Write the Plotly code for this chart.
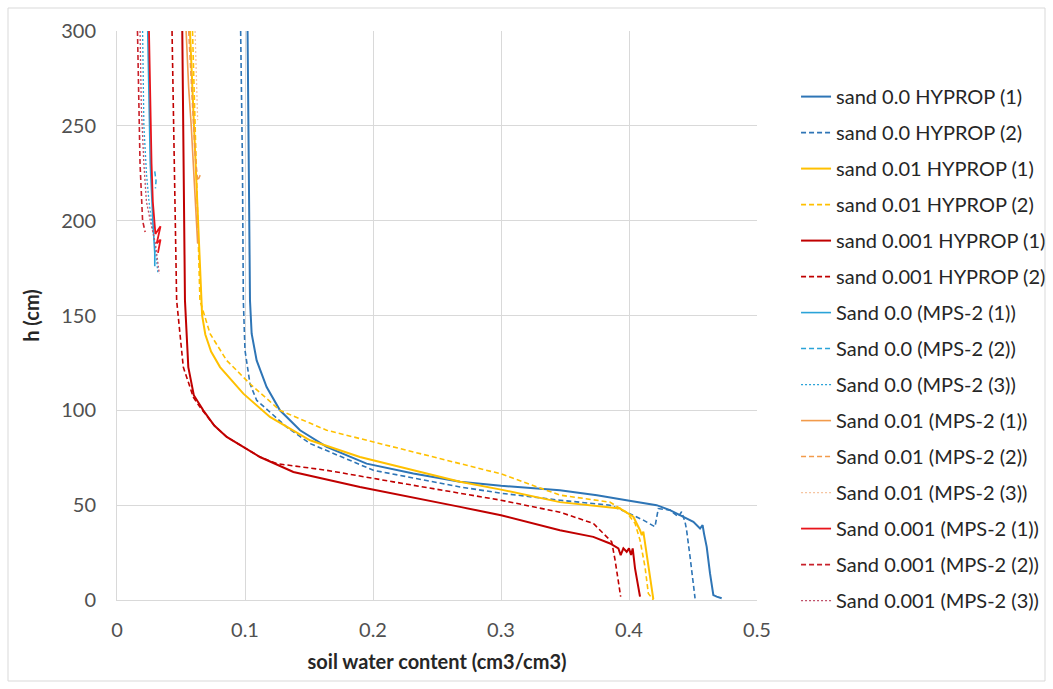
import plotly.graph_objects as go

# ---------------- data (soil water content, h in cm) ----------------
# HYPROP measurements
hyp00_1_x = [0.102, 0.103, 0.1039, 0.1052, 0.1091, 0.1169, 0.1273, 0.143, 0.1638, 0.195, 0.2315, 0.268, 0.30, 0.346,
             0.375, 0.398, 0.4216, 0.432, 0.4398, 0.4503, 0.4555, 0.4575, 0.4586, 0.4607, 0.4633, 0.4659, 0.4685, 0.4724]
hyp00_1_h = [300, 230, 157.9, 140.4, 126.3, 112.3, 100, 89.5, 80.7, 71.9, 66.7, 62.3, 60.2, 57.9,
             55.2, 52.6, 50, 47.4, 44.7, 41.2, 37.7, 39.5, 35, 28, 14, 2.6, 1.8, 0.9]

hyp00_2_x = [0.0966, 0.098, 0.0987, 0.1, 0.1039, 0.1091, 0.1326, 0.1508, 0.2003, 0.268, 0.30, 0.346, 0.385, 0.398,
             0.4112, 0.4203, 0.4229, 0.432, 0.4385, 0.4411, 0.4438, 0.445, 0.4477, 0.4516]
hyp00_2_h = [300, 230, 157.9, 131.6, 114, 105.3, 91.2, 82.5, 68.4, 59.6, 56.3, 52.6, 50, 46.3,
             42.1, 38.6, 48.2, 47.4, 43.9, 46.5, 41.2, 36.8, 22.8, 0.9]

hyp01_1_x = [0.057, 0.060, 0.063, 0.0655, 0.0665, 0.0690, 0.0735, 0.0805, 0.0987, 0.1195, 0.1508, 0.1898, 0.268, 0.30,
             0.346, 0.393, 0.4034, 0.4086, 0.41, 0.4112, 0.415, 0.4177, 0.419]
hyp01_1_h = [300, 250, 200, 165, 150, 140, 131, 122.8, 108.8, 96.5, 84.2, 75.4, 62.3, 58.2,
             51.6, 48.2, 43.9, 36.8, 34.2, 36.0, 19.3, 6.1, 0.5]

hyp01_2_x = [0.059, 0.061, 0.063, 0.0648, 0.0727, 0.0857, 0.1039, 0.1273, 0.1638, 0.2159, 0.268, 0.30, 0.346, 0.385,
             0.398, 0.4047, 0.4086, 0.4125, 0.4151, 0.419]
hyp01_2_h = [300, 250, 200, 157.9, 140.4, 126.3, 114, 100, 89.5, 80.7, 71.9, 66.5, 55.3, 51.6,
             46.3, 40.4, 31.6, 17.5, 3.5, 0]

hyp001_1_x = [0.051, 0.052, 0.0531, 0.0557, 0.0600, 0.0674, 0.0760, 0.0857, 0.1117, 0.1378, 0.1898, 0.268, 0.30, 0.346,
              0.3721, 0.3852, 0.3917, 0.3935, 0.3956, 0.3982, 0.40, 0.4016, 0.4029, 0.4047, 0.4068, 0.4086]
hyp001_1_h = [300, 230, 157.9, 122.8, 108, 100, 92, 86, 75.4, 67.5, 59.6, 49.1, 44.7, 36.8,
              33.3, 29.8, 27.2, 23.7, 27.2, 25.4, 27.2, 23.7, 27.2, 16.7, 8.8, 1.8]

hyp001_2_x = [0.043, 0.045, 0.0466, 0.0518, 0.0596, 0.0648, 0.0760, 0.0857, 0.1117, 0.1247, 0.1638, 0.2159, 0.268, 0.30,
              0.346, 0.3721, 0.3826, 0.3865, 0.3891, 0.3917, 0.3935]
hyp001_2_h = [300, 230, 157.9, 122.8, 107, 101.7, 92, 86, 75.4, 71.9, 68.4, 62.3, 56.1, 52.6,
              46.3, 40.4, 33.3, 30.7, 21.1, 10.5, 1.8]

# MPS-2 measurements
mps00_1_x = [0.024, 0.025, 0.026, 0.028, 0.0295, 0.0295]
mps00_1_h = [300, 260, 230, 200, 183, 176]
mps00_2_x = [0.0295, 0.0305, 0.030]
mps00_2_h = [226, 221, 217]
mps00_3_x = [0.020, 0.021, 0.023, 0.025, 0.027, 0.030, 0.032]
mps00_3_h = [300, 250, 225, 210, 200, 185, 172]

mps01_1_x = [0.054, 0.056, 0.058, 0.060, 0.062, 0.063]
mps01_1_h = [300, 270, 250, 225, 200, 188]
mps01_2_x = [0.056, 0.059, 0.061, 0.063, 0.065]
mps01_2_h = [300, 260, 235, 221, 224]
mps01_3_x = [0.061, 0.062, 0.063]
mps01_3_h = [300, 275, 253]

mps001_1_x = [0.025, 0.026, 0.027, 0.028, 0.029, 0.030, 0.034, 0.031, 0.034, 0.032]
mps001_1_h = [300, 260, 230, 210, 200, 193, 197, 188, 190, 183]
mps001_2_x = [0.016, 0.017, 0.018, 0.019, 0.020, 0.022]
mps001_2_h = [300, 260, 230, 215, 200, 194]
mps001_3_x = [0.018, 0.019, 0.021, 0.023, 0.026, 0.030, 0.033]
mps001_3_h = [300, 260, 230, 210, 200, 188, 172]

series_names = [
    "sand 0.0 HYPROP (1)", "sand 0.0 HYPROP (2)",
    "sand 0.01 HYPROP (1)", "sand 0.01 HYPROP (2)",
    "sand 0.001 HYPROP (1)", "sand 0.001 HYPROP (2)",
    "Sand 0.0 (MPS-2 (1))", "Sand 0.0 (MPS-2 (2))", "Sand 0.0 (MPS-2 (3))",
    "Sand 0.01 (MPS-2 (1))", "Sand 0.01 (MPS-2 (2))", "Sand 0.01 (MPS-2 (3))",
    "Sand 0.001 (MPS-2 (1))", "Sand 0.001 (MPS-2 (2))", "Sand 0.001 (MPS-2 (3))",
]
series_x = [hyp00_1_x, hyp00_2_x, hyp01_1_x, hyp01_2_x, hyp001_1_x, hyp001_2_x,
            mps00_1_x, mps00_2_x, mps00_3_x, mps01_1_x, mps01_2_x, mps01_3_x,
            mps001_1_x, mps001_2_x, mps001_3_x]
series_h = [hyp00_1_h, hyp00_2_h, hyp01_1_h, hyp01_2_h, hyp001_1_h, hyp001_2_h,
            mps00_1_h, mps00_2_h, mps00_3_h, mps01_1_h, mps01_2_h, mps01_3_h,
            mps001_1_h, mps001_2_h, mps001_3_h]

# ---------------- styles ----------------
DASH = "5px,3px"
DOT = "2px,2px"
styles = [
    ("#2E75B6", 2, "solid"), ("#2E75B6", 1.6, DASH),
    ("#FFC000", 2, "solid"), ("#FFC000", 1.6, DASH),
    ("#C00000", 2, "solid"), ("#C00000", 1.6, DASH),
    ("#2AA3D8", 1.6, "solid"), ("#2AA3D8", 1.5, DASH), ("#2AA3D8", 1.3, DOT),
    ("#F29B4B", 1.6, "solid"), ("#F29B4B", 1.5, DASH), ("#F6C4A0", 1.3, DOT),
    ("#E8141B", 1.8, "solid"), ("#C8202A", 1.6, DASH), ("#C0506A", 1.3, DOT),
]

fig = go.Figure()
for i, (name, xs, hs) in enumerate(zip(series_names, series_x, series_h)):
    color, width, dash = styles[i]
    fig.add_trace(go.Scatter(
        x=xs, y=hs, mode="lines", name=name, legendgroup=f"g{i}",
        line=dict(color=color, width=width, dash=dash),
    ))

FONT = "Lato, 'Open Sans', sans-serif"
fig.update_layout(
    width=1053, height=689,
    margin=dict(l=117, r=296, t=31, b=89, autoexpand=False),
    paper_bgcolor="white", plot_bgcolor="white",
    font=dict(family=FONT, size=20, color="#505050"),
    showlegend=True,
    legend=dict(
        x=1.061, xanchor="left", y=0.919, yanchor="top",
        font=dict(family=FONT, size=20, color="#262626"),
        tracegroupgap=7, bgcolor="rgba(0,0,0,0)",
    ),
    xaxis=dict(
        range=[0, 0.5], dtick=0.1, tick0=0, showgrid=True, gridcolor="#D9D9D9", gridwidth=1,
        zeroline=False, showline=True, linecolor="#D9D9D9", linewidth=1, mirror=False,
        ticks="", ticklabelstandoff=12,
        title=dict(text="<b>soil water content (cm3/cm3)</b>", font=dict(size=20, color="#262626"), standoff=14),
    ),
    yaxis=dict(
        range=[0, 300], dtick=50, tick0=0, showgrid=True, gridcolor="#D9D9D9", gridwidth=1,
        zeroline=False, showline=True, linecolor="#D9D9D9", linewidth=1,
        ticks="", ticklabelstandoff=16,
        title=dict(text="<b>h (cm)</b>", font=dict(size=20, color="#262626"), standoff=16),
    ),
    shapes=[dict(type="rect", xref="paper", yref="paper",
                 x0=(8 - 117) / 640, x1=(1045 - 117) / 640,
                 y0=(600 - 681) / 569, y1=(600 - 8) / 569,
                 line=dict(color="#D9D9D9", width=1), fillcolor="rgba(0,0,0,0)", layer="below")],
)

fig.write_html("out.html")
